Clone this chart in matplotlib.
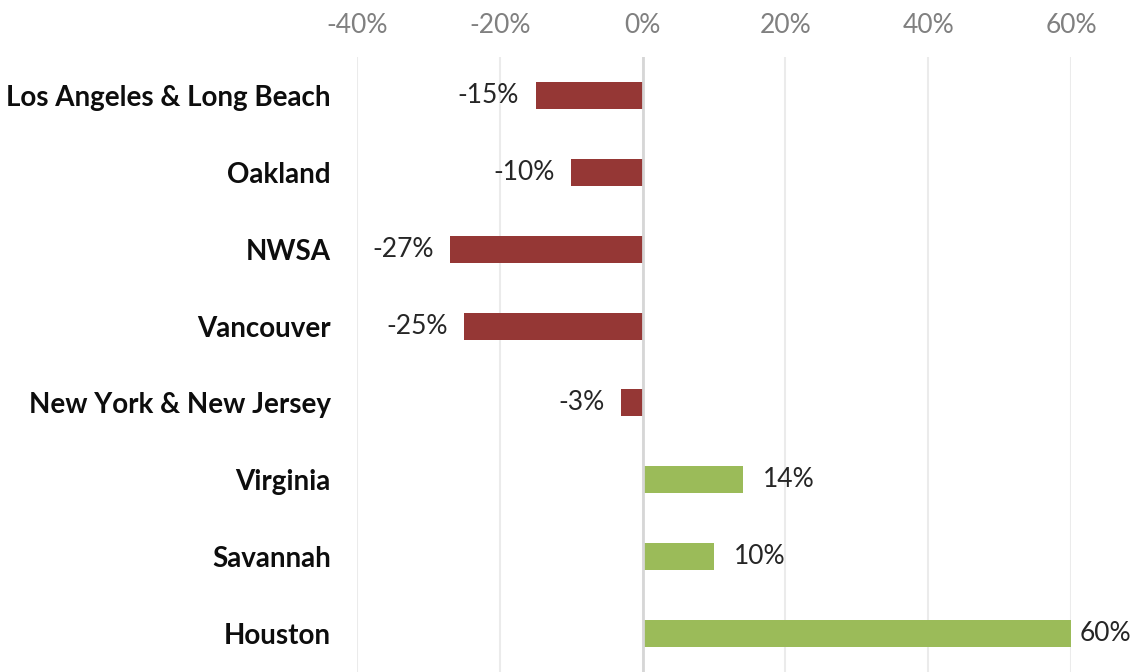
import matplotlib.pyplot as plt
from matplotlib.ticker import FuncFormatter

plt.rcParams['font.family'] = ['Lato', 'DejaVu Sans']

ports = ['Los Angeles & Long Beach', 'Oakland', 'NWSA', 'Vancouver',
         'New York & New Jersey', 'Virginia', 'Savannah', 'Houston']
change = [-15, -10, -27, -25, -3, 14, 10, 60]

red = '#953735'
green = '#9bbb59'

fig = plt.figure(figsize=(11.38, 6.72), dpi=100)
ax = fig.add_axes([357 / 1138, 0, (1071 - 357) / 1138, 615 / 672])

ypos = list(range(len(ports)))
colors = [red if v < 0 else green for v in change]
ax.barh(ypos, change, height=0.35, color=colors, zorder=3)

# data labels beside each bar (kept inside the figure on the right)
for y, v in zip(ypos, change):
    if v < 0:
        ax.text(v - 2.3, y, f'{v}%', ha='right', va='center',
                fontsize=19, color='#262626')
    else:
        ax.text(min(v + 2.8, 61.2), y, f'{v}%', ha='left', va='center',
                fontsize=19, color='#262626')

ax.set_xlim(-40, 60)
ax.set_ylim(len(ports) - 0.5, -0.5)
ax.set_xticks([-40, -20, 0, 20, 40, 60])
ax.xaxis.set_major_formatter(FuncFormatter(lambda x, p: f'{int(x)}%'))
ax.xaxis.tick_top()
ax.tick_params(axis='x', length=0, pad=14, labelsize=19, labelcolor='#808080')
ax.set_yticks(ypos)
ax.set_yticklabels(ports, fontsize=20, fontweight='bold', color='#0d0d0d')
ax.tick_params(axis='y', length=0, pad=19)

ax.grid(axis='x', color='#ebebeb', linewidth=1.5, zorder=0)
ax.axvline(0, color='#d6d6d6', linewidth=2, zorder=4)
for s in ax.spines.values():
    s.set_visible(False)

fig.savefig('out.png', dpi=100)
